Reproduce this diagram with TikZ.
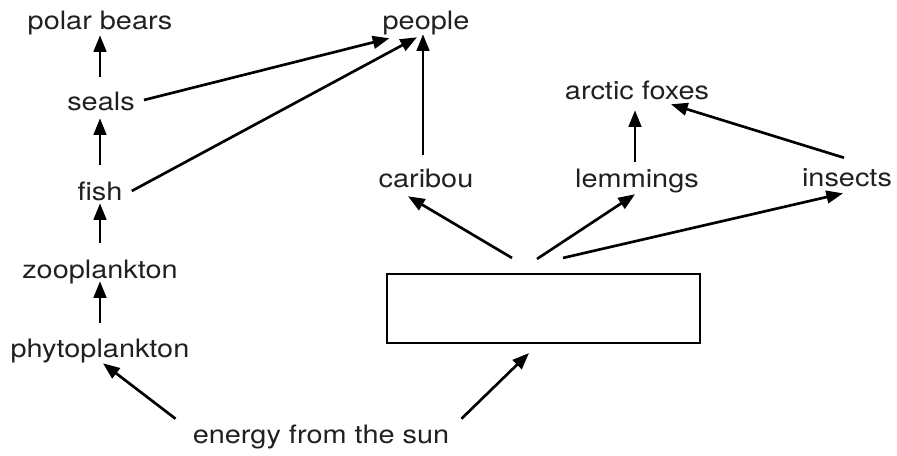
\documentclass[tikz,border=0pt]{standalone}
\usepackage{fontspec}
\setmainfont[FakeStretch=1.14]{TeX Gyre Heros}
\usetikzlibrary{arrows.meta}
\definecolor{txt}{HTML}{231F20}
\begin{document}
\begin{tikzpicture}[x=0.75pt,y=-0.75pt,
  lbl/.style={anchor=base,inner sep=0pt,text height=12.75pt,text depth=3.75pt,
    font=\fontsize{19pt}{21pt}\selectfont,text=txt},
  arr/.style={line width=2pt,-{Triangle[length=12.5pt,width=9.5pt]}},
  plainbox/.style={draw,line width=1.6pt,minimum width=234.75pt,minimum height=51.75pt,inner sep=0pt}]
\useasboundingbox (0,0) rectangle (897,455);
% nodes
\node[lbl] (polar) at (100,29) {polar bears};
\node[lbl] (seals) at (101,110) {seals};
\node[lbl] (fish) at (100,200) {fish};
\node[lbl] (zoo) at (100,278) {zooplankton};
\node[lbl] (phyto) at (100,357) {phytoplankton};
\node[lbl] (people) at (426,29) {people};
\node[lbl] (foxes) at (637,99) {arctic foxes};
\node[lbl] (caribou) at (426,187) {caribou};
\node[lbl] (lemmings) at (637,187) {lemmings};
\node[lbl] (insects) at (847,186) {insects};
\node[lbl] (sun) at (321,443) {energy from the sun};
\node[plainbox] (box) at (543.5,308.5) {};
% left chain
\draw[arr] ([shift={(-1,-16)}]seals.north) -- ([shift={(0,1)}]polar.south);
\draw[arr] ([shift={(0,-18)}]fish.north) -- ([shift={(-1,3)}]seals.south);
\draw[arr] ([shift={(0,-18)}]zoo.north) -- ([shift={(0,-2)}]fish.south);
\draw[arr] ([shift={(0,-17)}]phyto.north) -- ([shift={(0,-2)}]zoo.south);
% to people
\draw[arr] ([shift={(9,-4)}]seals.east) -- ([shift={(7,4)}]people.south west);
\draw[arr] ([shift={(9,-3)}]fish.east) -- ([shift={(-9,3)}]people.south);
\draw[arr] ([shift={(-3,-15)}]caribou.north) -- ([shift={(-3,0)}]people.south);
% from box
\draw[arr] ([shift={(-31.5,-15)}]box.north) -- ([shift={(-18,4)}]caribou.south);
\draw[arr] ([shift={(-6.5,-14)}]box.north) -- ([shift={(-2,2)}]lemmings.south);
\draw[arr] ([shift={(19.5,-15)}]box.north) -- ([shift={(-4,2)}]insects.south);
% to foxes
\draw[arr] ([shift={(-2,-8)}]lemmings.north) -- ([shift={(-2,6)}]foxes.south);
\draw[arr] ([shift={(-3,-11)}]insects.north) -- ([shift={(34,0)}]foxes.south);
% from sun
\draw[arr] ([shift={(-17,-7)}]sun.north west) -- ([shift={(3,1)}]phyto.south);
\draw[arr] ([shift={(12,-7)}]sun.north east) -- ([shift={(-14.5,9)}]box.south);
\end{tikzpicture}
\end{document}
